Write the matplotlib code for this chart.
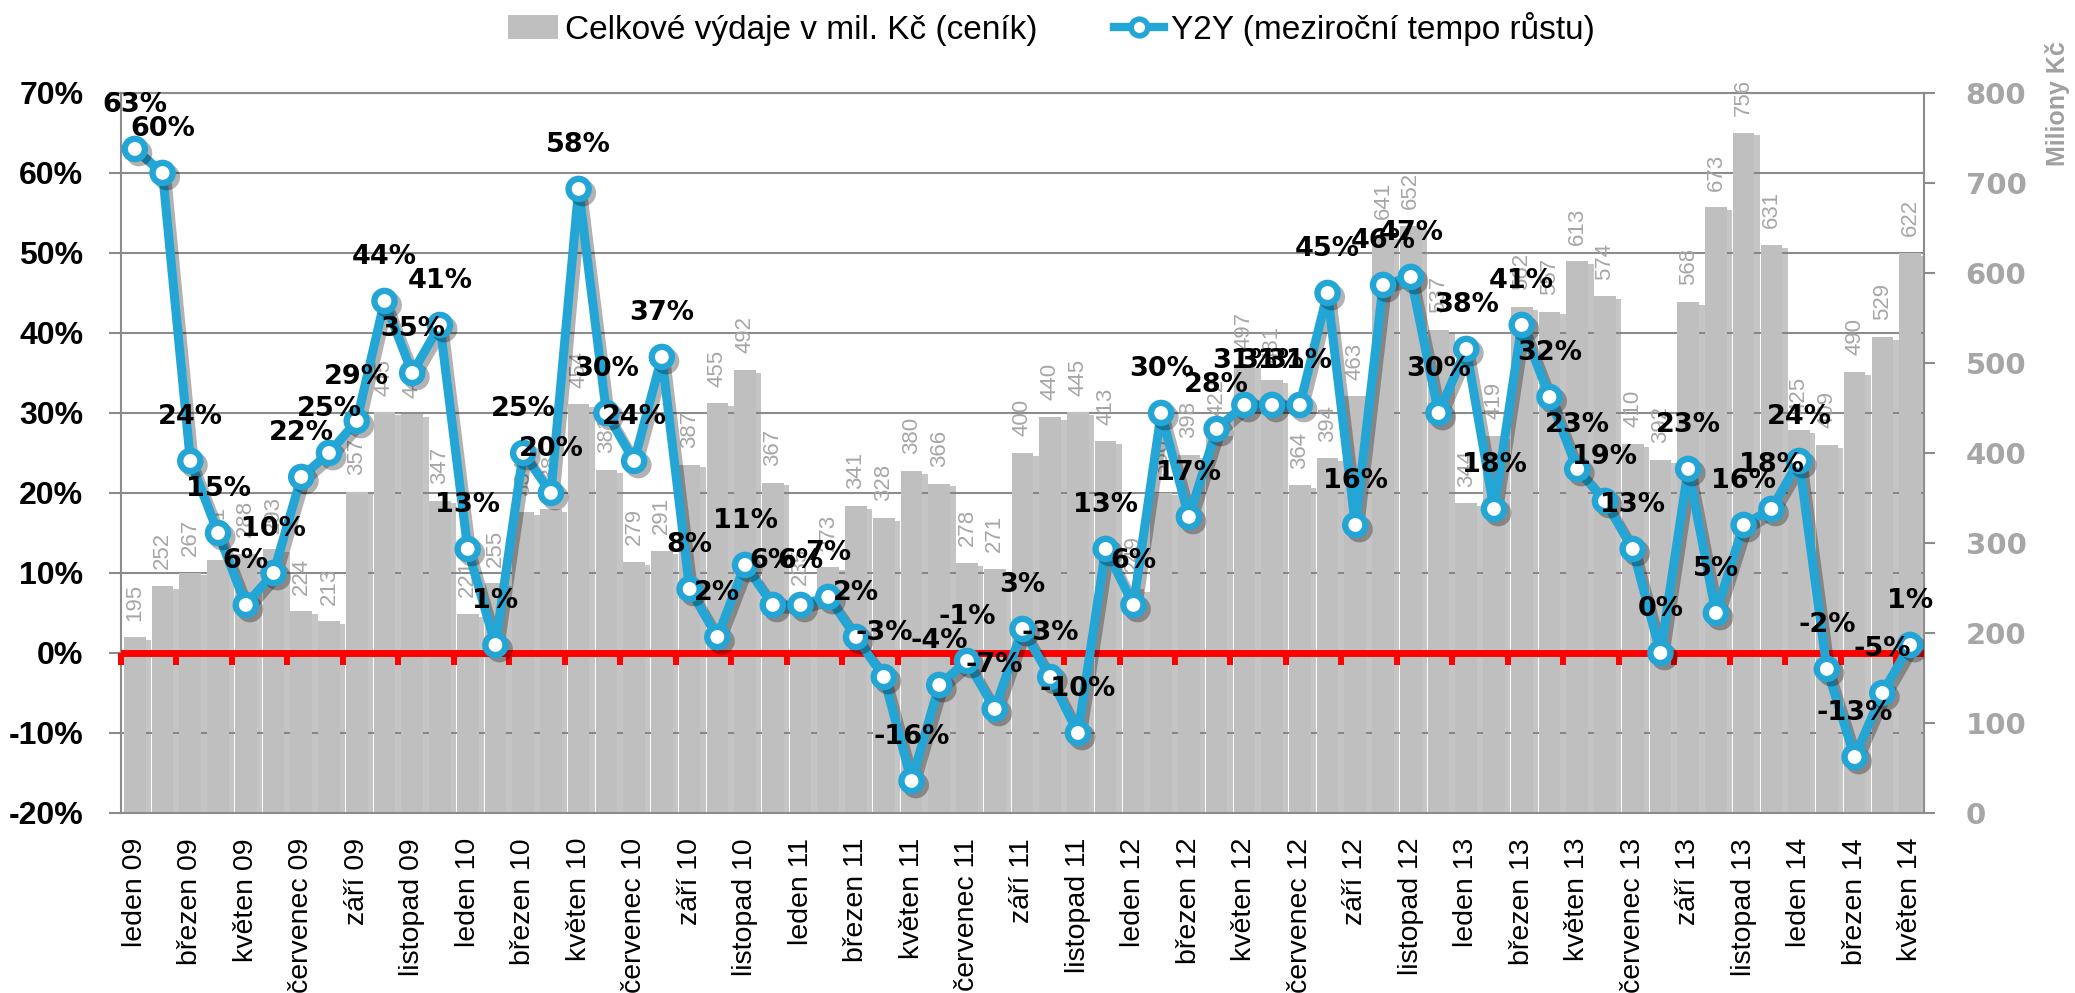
import numpy as np
import matplotlib
matplotlib.use('Agg')
import matplotlib.pyplot as plt
import matplotlib.patheffects as pe
from matplotlib.lines import Line2D
from matplotlib.patches import Patch

plt.rcParams['axes.unicode_minus'] = False

# data
mesice = ['leden', 'únor', 'březen', 'duben', 'květen', 'červen',
          'červenec', 'srpen', 'září', 'říjen', 'listopad', 'prosinec']
roky = ['09', '10', '11', '12', '13', '14']
kategorie = [m + ' ' + r for r in roky for m in mesice][:65]

# celkove vydaje v mil. Kc (pravá osa)
vydaje = [195, 252, 267, 281, 288, 293, 224, 213, 357, 445, 443, 347,
          221, 255, 334, 338, 454, 381, 279, 291, 387, 455, 492, 367,
          235, 273, 341, 328, 380, 366, 278, 271, 400, 440, 445, 413,
          249, 356, 398, 422, 497, 481, 364, 394, 463, 641, 652, 537,
          344, 419, 562, 557, 613, 574, 410, 392, 568, 673, 756, 631,
          425, 409, 490, 529, 622]

# mezirocni tempo rustu v % (levá osa)
y2y = [63, 60, 24, 15, 6, 10, 22, 25, 29, 44, 35, 41,
       13, 1, 25, 20, 58, 30, 24, 37, 8, 2, 11, 6,
       6, 7, 2, -3, -16, -4, -1, -7, 3, -3, -10, 13,
       6, 30, 17, 28, 31, 31, 31, 45, 16, 46, 47, 30,
       38, 18, 41, 32, 23, 19, 13, 0, 23, 5, 16, 18,
       24, -2, -13, -5, 1]

pct_ticks = list(range(-20, 71, 10))
kc_ticks = list(range(0, 801, 100))

BLUE = '#23A6D5'
GRAY_BAR = '#BFBFBF'
GRAY_TXT = '#A6A6A6'
GRAY_LINE = '#8C8C8C'
SANS = ['Liberation Sans', 'DejaVu Sans']

fig = plt.figure(figsize=(20.75, 9.93), dpi=100)
axb = fig.add_axes([0.0583, 0.1813, 0.8689, 0.7251])
x = np.arange(len(vydaje))

# mrizka (podle leve osy), za sloupci
lo, hi = pct_ticks[0], pct_ticks[-1]
for p in pct_ticks:
    axb.axhline((p - lo) / (hi - lo) * kc_ticks[-1], color=GRAY_LINE, lw=1.5, zorder=1)

bars = axb.bar(x, vydaje, width=0.78, color=GRAY_BAR, zorder=2)
for b in bars:
    b.set_path_effects([pe.SimplePatchShadow(offset=(4, -2), shadow_rgbFace='#7F7F7F', alpha=0.45),
                        pe.Normal()])
axb.bar_label(bars, labels=[str(v) for v in vydaje], padding=12, rotation=90,
              color=GRAY_TXT, fontsize=16, family=SANS)

axb.set_xlim(-0.5, len(x) - 0.5)
axb.set_ylim(kc_ticks[0], kc_ticks[-1])
axb.set_xticks(x[::2])
axb.set_xticklabels(kategorie[::2], rotation=90, fontsize=20.5, family=SANS)
axb.tick_params(axis='x', length=0, pad=18)
for s in axb.spines.values():
    s.set_color(GRAY_LINE)
    s.set_linewidth(1.5)

# leva osa - Y2Y
axl = axb.twinx()
axl.yaxis.tick_left()
axl.set_ylim(lo, hi)
axl.set_yticks(pct_ticks)
axl.set_yticklabels([f'{t}%' for t in pct_ticks], fontweight='bold', family=SANS)
axl.tick_params(axis='y', colors=GRAY_LINE, labelcolor='black', length=9, width=1.5,
                pad=18, labelsize=23)
for s in axl.spines.values():
    s.set_visible(False)

# prava osa (twinx ji presune doleva, proto az tady)
axb.yaxis.tick_right()
axb.set_yticks(kc_ticks)
axb.set_yticklabels([str(t) for t in kc_ticks], fontweight='bold', family='DejaVu Sans')
axb.tick_params(axis='y', colors=GRAY_LINE, labelcolor=GRAY_TXT, length=8, width=1.5,
                pad=22, labelsize=21)

axl.axhline(0, color='red', lw=5, zorder=2)
axl.vlines(np.arange(-0.5, len(x) - 1, 2), -1.5, 0, color='red', lw=4.3, zorder=2, clip_on=False)

axl.plot(x, y2y, color=BLUE, lw=6.5, marker='o', ms=14.5, mfc='white', mec=BLUE, mew=4.6, zorder=4,
         path_effects=[pe.SimpleLineShadow(offset=(3, -3), shadow_color='black', alpha=0.3),
                       pe.Normal()])
for xi, v in zip(x, y2y):
    axl.annotate(f'{v}%', (xi, v), xytext=(0, 32), textcoords='offset points',
                 ha='center', va='center', fontsize=19.5, fontweight='bold',
                 color='black', family='DejaVu Sans', zorder=5)

fig.text(0.9918, 0.896, 'Miliony Kč', rotation=90, ha='center', va='center',
         color='#A0A0A0', fontsize=18, fontweight='bold', family=SANS)

handles = [Patch(facecolor=GRAY_BAR, edgecolor='none', label='Celkové výdaje v mil. Kč (ceník)'),
           Line2D([], [], color=BLUE, lw=6, marker='o', ms=12, mfc='white', mec=BLUE, mew=4,
                  label='Y2Y (meziroční tempo růstu)')]
fig.legend(handles=handles, loc='center', bbox_to_anchor=(0.5066, 0.971), ncol=2, frameon=False,
           prop={'family': SANS, 'size': 24}, handlelength=1.5, handletextpad=0.2,
           columnspacing=2.3, handleheight=0.7)

fig.savefig('out.png', dpi=100)
